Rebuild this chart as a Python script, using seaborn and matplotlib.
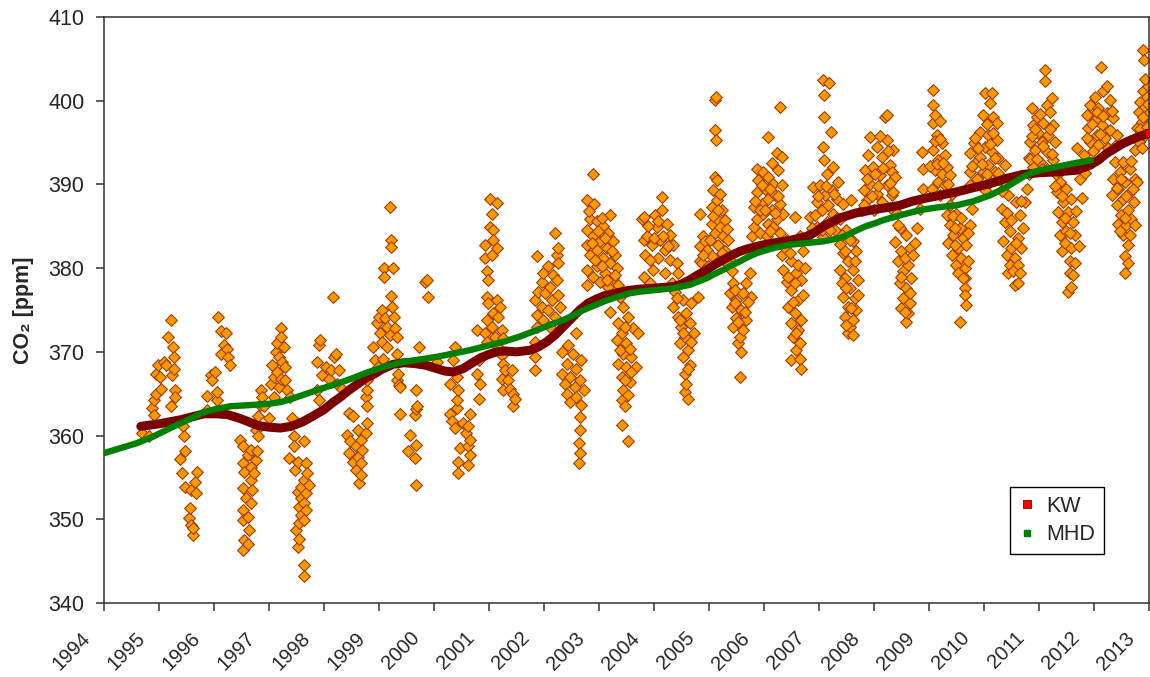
import matplotlib
matplotlib.use("Agg")
import matplotlib.pyplot as plt
import matplotlib.transforms as mtransforms
import pandas as pd
import seaborn as sns
from matplotlib.lines import Line2D

# Weekly CO2 flask samples (decimal year, ppm), grouped by season
obs_1995 = [(1994.70, 360.3), (1994.82, 359.9), (1994.88, 363.3), (1994.91, 362.5), (1994.91, 364.3),
            (1994.94, 365.0), (1994.95, 367.4), (1994.98, 368.4), (1995.02, 367.0), (1995.03, 365.6),
            (1995.09, 368.8), (1995.12, 368.4), (1995.17, 371.8), (1995.21, 373.8), (1995.21, 363.5),
            (1995.24, 367.2), (1995.25, 370.6), (1995.27, 369.4), (1995.28, 368.0), (1995.30, 365.4),
            (1995.30, 364.6), (1995.38, 357.2), (1995.41, 355.5), (1995.44, 361.1), (1995.45, 359.9),
            (1995.48, 358.1), (1995.48, 353.9), (1995.55, 350.1), (1995.56, 351.4), (1995.59, 353.5),
            (1995.59, 349.3), (1995.61, 348.1), (1995.62, 348.9), (1995.65, 354.4), (1995.68, 353.1),
            (1995.70, 355.6)]
obs_1996 = [(1995.87, 364.7), (1995.88, 363.1), (1995.94, 367.2), (1995.97, 366.6), (1996.02, 367.6),
            (1996.05, 364.3), (1996.06, 365.2), (1996.08, 374.2), (1996.12, 372.5), (1996.12, 369.8),
            (1996.18, 370.8), (1996.21, 372.2), (1996.24, 370.4), (1996.25, 369.4), (1996.29, 368.4),
            (1996.47, 359.5), (1996.52, 356.7), (1996.52, 351.1), (1996.53, 358.7), (1996.53, 353.7),
            (1996.53, 349.9), (1996.53, 346.3), (1996.55, 355.7), (1996.55, 347.5), (1996.58, 352.5),
            (1996.61, 350.3), (1996.61, 347.1), (1996.62, 357.7), (1996.64, 348.7), (1996.67, 358.3),
            (1996.67, 356.3), (1996.67, 354.7), (1996.67, 351.9), (1996.70, 353.5), (1996.73, 355.5),
            (1996.76, 360.7), (1996.76, 357.1), (1996.79, 358.1), (1996.80, 362.3), (1996.80, 359.9),
            (1996.84, 363.7), (1996.85, 365.4), (1996.88, 364.6)]
obs_1997 = [(1996.91, 363.5), (1997.00, 362.1), (1997.03, 366.2), (1997.06, 368.4), (1997.09, 367.0),
            (1997.10, 364.6), (1997.12, 370.0), (1997.15, 371.0), (1997.15, 367.6), (1997.18, 369.4),
            (1997.18, 365.8), (1997.21, 372.8), (1997.21, 371.8), (1997.21, 366.8), (1997.24, 368.8),
            (1997.27, 370.6), (1997.30, 368.2), (1997.30, 366.6), (1997.32, 365.4), (1997.39, 364.6),
            (1997.42, 362.1), (1997.36, 357.3), (1997.45, 359.9), (1997.45, 358.7), (1997.48, 355.9),
            (1997.50, 348.7), (1997.52, 356.9), (1997.52, 353.3), (1997.52, 346.7), (1997.55, 351.5),
            (1997.55, 349.5), (1997.55, 347.7), (1997.58, 353.9), (1997.58, 352.5), (1997.58, 350.5),
            (1997.64, 359.3), (1997.64, 354.7), (1997.64, 351.9), (1997.64, 349.9), (1997.64, 344.5),
            (1997.64, 343.2), (1997.67, 356.7), (1997.67, 353.1), (1997.67, 351.1), (1997.70, 355.5),
            (1997.73, 354.1)]
obs_1998 = [(1997.88, 368.8), (1997.88, 365.4), (1997.91, 370.8), (1997.91, 364.3), (1997.93, 371.4),
            (1997.97, 367.2), (1998.03, 368.2), (1998.09, 366.8), (1998.12, 367.8), (1998.17, 376.6),
            (1998.18, 369.4), (1998.21, 369.8), (1998.24, 366.2), (1998.27, 367.8), (1998.33, 365.6),
            (1998.42, 360.1), (1998.45, 362.7), (1998.45, 357.9), (1998.48, 359.3), (1998.52, 362.3),
            (1998.52, 356.9), (1998.58, 358.7), (1998.58, 355.9), (1998.61, 360.7), (1998.61, 357.5),
            (1998.64, 354.3), (1998.67, 359.5), (1998.67, 356.7), (1998.67, 355.3), (1998.70, 358.3),
            (1998.76, 360.3), (1998.76, 364.6), (1998.79, 361.5), (1998.79, 363.5), (1998.79, 365.4),
            (1998.79, 366.6)]
obs_1999 = [(1998.90, 370.6), (1998.93, 369.0), (1998.97, 373.4), (1998.99, 368.2), (1999.00, 374.2),
            (1999.02, 372.2), (1999.05, 375.0), (1999.05, 371.2), (1999.08, 369.2), (1999.09, 380.0),
            (1999.09, 378.9), (1999.11, 374.0), (1999.14, 373.0), (1999.14, 370.6), (1999.20, 387.3),
            (1999.20, 372.0), (1999.21, 383.4), (1999.21, 382.5), (1999.21, 376.7), (1999.23, 375.4),
            (1999.25, 380.0), (1999.27, 374.2), (1999.29, 372.8), (1999.32, 371.8), (1999.32, 369.8),
            (1999.32, 366.6), (1999.35, 367.4), (1999.37, 366.0), (1999.38, 365.8), (1999.38, 362.6),
            (1999.53, 358.1), (1999.56, 360.1), (1999.65, 357.3), (1999.66, 362.5), (1999.67, 363.2),
            (1999.67, 358.9), (1999.67, 354.1), (1999.68, 365.4), (1999.69, 363.5), (1999.72, 370.6),
            (1999.84, 378.4), (1999.87, 378.6), (1999.90, 376.6)]
obs_2000 = [(2000.05, 368.8), (2000.29, 366.2), (2000.29, 362.6), (2000.32, 361.7), (2000.35, 369.0),
            (2000.38, 370.6), (2000.38, 360.9), (2000.41, 363.3), (2000.42, 367.0), (2000.42, 364.3),
            (2000.44, 365.4), (2000.44, 356.9), (2000.44, 355.5), (2000.47, 358.5), (2000.53, 361.5),
            (2000.59, 360.3), (2000.62, 361.1), (2000.62, 358.7), (2000.62, 356.5), (2000.65, 362.6),
            (2000.65, 359.5), (2000.65, 357.7), (2000.78, 367.4), (2000.78, 372.6), (2000.81, 369.0),
            (2000.81, 364.4), (2000.84, 366.2)]
obs_2001 = [(2000.93, 382.8), (2000.93, 381.2), (2000.93, 372.2), (2000.96, 379.6), (2000.96, 376.6),
            (2000.96, 373.8), (2000.96, 371.2), (2000.99, 378.6), (2000.99, 375.8), (2001.01, 388.2),
            (2001.01, 384.9), (2001.05, 386.5), (2001.05, 381.6), (2001.05, 373.0), (2001.07, 384.6),
            (2001.08, 383.4), (2001.08, 374.6), (2001.11, 371.8), (2001.14, 387.8), (2001.14, 382.4),
            (2001.14, 376.2), (2001.17, 374.2), (2001.17, 370.6), (2001.20, 375.4), (2001.23, 372.6),
            (2001.23, 369.6), (2001.23, 366.8), (2001.26, 371.6), (2001.26, 368.6), (2001.26, 365.4),
            (2001.29, 367.8), (2001.35, 366.6), (2001.38, 365.6), (2001.41, 367.8), (2001.44, 365.0),
            (2001.44, 363.5), (2001.47, 364.4)]
obs_2002 = [(2001.84, 376.2), (2001.84, 371.2), (2001.84, 369.4), (2001.84, 367.8), (2001.87, 374.4),
            (2001.87, 373.0), (2001.88, 381.4), (2001.90, 377.2), (2001.96, 378.4), (2001.96, 375.4),
            (2001.99, 379.4), (2001.99, 373.8), (2002.02, 377.0), (2002.08, 380.2), (2002.08, 375.0),
            (2002.11, 377.8), (2002.11, 373.0), (2002.14, 376.2), (2002.17, 379.2), (2002.20, 384.2),
            (2002.20, 374.2), (2002.23, 381.6), (2002.23, 378.6), (2002.26, 382.4), (2002.26, 380.6),
            (2002.26, 376.8), (2002.29, 375.4), (2002.32, 370.0), (2002.32, 367.4), (2002.38, 366.2),
            (2002.41, 368.6), (2002.41, 365.0), (2002.44, 370.8), (2002.47, 367.0), (2002.47, 364.0),
            (2002.53, 369.8), (2002.56, 365.8), (2002.59, 372.2), (2002.59, 368.0), (2002.59, 364.6),
            (2002.63, 359.1), (2002.63, 356.7), (2002.66, 366.6), (2002.66, 362.2), (2002.66, 357.9),
            (2002.66, 360.7), (2002.68, 369.0), (2002.68, 363.6), (2002.72, 365.4)]
obs_2003 = [(2002.78, 388.1), (2002.78, 384.6), (2002.78, 382.8), (2002.78, 379.8), (2002.78, 378.0),
            (2002.84, 385.9), (2002.84, 381.6), (2002.90, 391.2), (2002.90, 383.8), (2002.90, 379.0),
            (2002.91, 387.7), (2002.96, 385.6), (2002.96, 382.2), (2002.96, 380.2), (2003.02, 383.2),
            (2003.02, 378.4), (2003.08, 385.0), (2003.08, 381.2), (2003.11, 379.4), (2003.14, 382.4),
            (2003.17, 384.2), (2003.17, 377.8), (2003.20, 386.3), (2003.20, 380.6), (2003.26, 383.2),
            (2003.26, 378.8), (2003.29, 381.6), (2003.32, 380.0), (2003.35, 378.0), (2003.20, 374.8),
            (2003.32, 371.4), (2003.35, 373.4), (2003.35, 368.6), (2003.41, 372.2), (2003.41, 367.0),
            (2003.41, 364.2), (2003.41, 361.3), (2003.44, 375.4), (2003.44, 369.8), (2003.44, 365.4),
            (2003.47, 363.5), (2003.50, 371.0), (2003.50, 368.2), (2003.53, 374.2), (2003.53, 359.3),
            (2003.56, 366.4), (2003.59, 369.4), (2003.62, 372.8), (2003.68, 368.2), (2003.71, 372.2),
            (2002.81, 386.8), (2002.87, 383.0), (2002.93, 381.0), (2002.99, 384.4), (2003.05, 380.2),
            (2003.05, 386.0), (2003.11, 383.6), (2003.14, 378.6), (2003.23, 382.0), (2003.29, 379.2),
            (2003.38, 376.6), (2003.38, 370.2), (2003.47, 373.0), (2003.56, 370.4), (2003.47, 366.6),
            (2003.53, 364.8), (2003.59, 367.6)]
obs_2004 = [(2003.79, 385.9), (2003.81, 386.1), (2003.81, 383.4), (2003.81, 379.0), (2003.84, 381.6),
            (2003.87, 383.8), (2003.93, 378.2), (2003.96, 382.8), (2003.99, 379.8), (2004.02, 386.3),
            (2004.05, 384.9), (2004.08, 381.2), (2004.11, 383.4), (2004.14, 388.5), (2004.14, 386.9),
            (2004.20, 382.2), (2004.20, 379.4), (2004.23, 385.3), (2004.29, 384.0), (2004.29, 381.0),
            (2004.32, 378.2), (2004.35, 382.8), (2004.41, 380.6), (2004.44, 379.4), (2004.35, 375.4),
            (2004.44, 374.2), (2004.47, 371.0), (2004.50, 373.0), (2004.53, 376.2), (2004.53, 369.4),
            (2004.56, 371.8), (2004.56, 367.4), (2004.56, 365.2), (2004.59, 366.2), (2004.62, 370.2),
            (2004.62, 364.4), (2004.65, 373.4), (2004.65, 368.4), (2004.68, 375.8), (2004.72, 372.2),
            (2004.80, 376.6), (2003.90, 385.0), (2003.93, 381.0), (2004.00, 383.6), (2004.08, 385.6),
            (2004.17, 383.8), (2004.26, 382.6), (2004.38, 377.2), (2004.41, 376.4), (2004.47, 373.8),
            (2004.59, 374.6), (2004.62, 368.0), (2004.68, 371.2), (2004.53, 372.2)]
obs_2005 = [(2004.84, 386.5), (2004.84, 382.6), (2004.84, 380.8), (2004.87, 380.6), (2004.90, 383.8),
            (2004.93, 383.2), (2004.96, 382.2), (2004.99, 380.2), (2005.05, 387.3), (2005.05, 385.3),
            (2005.05, 381.4), (2005.08, 389.3), (2005.11, 400.1), (2005.11, 396.5), (2005.11, 390.9),
            (2005.11, 384.2), (2005.13, 400.5), (2005.13, 395.3), (2005.14, 390.5), (2005.14, 388.1),
            (2005.14, 385.9), (2005.17, 382.8), (2005.20, 388.9), (2005.20, 384.9), (2005.23, 386.9),
            (2005.26, 383.8), (2005.29, 385.7), (2005.29, 382.0), (2005.32, 384.7), (2005.35, 383.4),
            (2005.38, 381.0), (2005.41, 379.6), (2005.38, 377.0), (2005.41, 375.4), (2005.44, 378.2),
            (2005.44, 373.0), (2005.50, 376.2), (2005.50, 374.0), (2005.53, 371.0), (2005.56, 371.8),
            (2005.56, 367.0), (2005.59, 375.0), (2005.59, 370.0), (2005.62, 372.6), (2005.68, 378.2),
            (2005.68, 373.8), (2005.74, 379.4), (2005.77, 376.6), (2004.90, 381.6), (2005.02, 383.4),
            (2005.08, 386.2), (2005.17, 387.0), (2005.23, 381.8), (2005.32, 380.6), (2005.47, 377.4),
            (2005.53, 373.6), (2005.62, 377.0), (2005.65, 374.8), (2005.71, 376.0), (2005.47, 375.8)]
obs_2006 = [(2005.78, 383.8), (2005.81, 387.3), (2005.81, 384.9), (2005.87, 391.9), (2005.87, 389.1),
            (2005.87, 385.9), (2005.90, 390.5), (2005.93, 384.2), (2005.96, 387.7), (2005.99, 391.5),
            (2005.99, 386.5), (2006.02, 389.5), (2006.05, 383.8), (2006.08, 395.7), (2006.08, 390.9),
            (2006.08, 388.3), (2006.08, 385.3), (2006.14, 392.5), (2006.14, 386.9), (2006.17, 390.1),
            (2006.17, 384.9), (2006.20, 388.7), (2006.23, 393.7), (2006.23, 385.9), (2006.26, 391.7),
            (2006.29, 399.2), (2006.29, 387.7), (2006.29, 384.2), (2006.32, 393.3), (2006.32, 389.9),
            (2006.35, 386.5), (2006.32, 381.6), (2006.35, 379.8), (2006.41, 383.4), (2006.41, 378.4),
            (2006.44, 375.4), (2006.50, 380.8), (2006.50, 377.4), (2006.50, 373.4), (2006.50, 369.0),
            (2006.53, 371.8), (2006.56, 386.1), (2006.56, 374.6), (2006.59, 379.4), (2006.59, 370.2),
            (2006.62, 376.2), (2006.62, 372.6), (2006.65, 383.8), (2006.65, 371.0), (2006.65, 369.2),
            (2006.68, 378.6), (2006.68, 373.8), (2006.68, 368.0), (2006.71, 382.0), (2005.84, 388.0),
            (2005.93, 387.0), (2005.96, 389.9), (2006.02, 386.9), (2006.11, 389.4), (2006.20, 386.6),
            (2006.26, 388.6), (2006.11, 384.4), (2006.38, 382.4), (2006.44, 378.9), (2006.47, 381.8),
            (2006.53, 376.0), (2006.56, 378.2), (2006.62, 380.4), (2006.71, 376.8), (2006.74, 380.0),
            (2006.59, 372.2)]
obs_2007 = [(2006.81, 383.9), (2006.84, 386.1), (2006.90, 389.7), (2006.96, 387.9), (2006.96, 384.9),
            (2007.02, 389.9), (2007.05, 386.9), (2007.07, 402.5), (2007.07, 394.5), (2007.08, 383.7),
            (2007.09, 392.9), (2007.10, 400.7), (2007.10, 398.1), (2007.11, 388.7), (2007.14, 391.3),
            (2007.14, 385.5), (2007.17, 387.5), (2007.19, 402.1), (2007.21, 396.3), (2007.23, 389.3),
            (2007.26, 392.1), (2007.26, 386.5), (2007.29, 384.5), (2007.32, 388.3), (2007.35, 390.3),
            (2007.38, 385.9), (2007.44, 387.7), (2007.59, 388.1), (2007.38, 382.9), (2007.38, 379.8),
            (2007.44, 381.8), (2007.44, 376.6), (2007.47, 378.8), (2007.47, 374.2), (2007.50, 384.5),
            (2007.53, 380.8), (2007.53, 375.4), (2007.53, 372.2), (2007.56, 377.6), (2007.56, 373.0),
            (2007.62, 383.2), (2007.62, 379.8), (2007.62, 373.8), (2007.62, 372.0), (2007.65, 376.4),
            (2007.68, 382.0), (2007.68, 375.0), (2007.71, 378.6), (2006.87, 384.8), (2006.93, 386.4),
            (2006.99, 388.6), (2007.05, 384.6), (2007.13, 389.8), (2007.20, 384.6), (2007.28, 388.9),
            (2007.32, 386.0), (2007.41, 384.0), (2007.41, 378.2), (2007.47, 382.0), (2007.50, 377.6),
            (2007.59, 375.2), (2007.65, 380.8), (2007.71, 376.8), (2007.56, 383.4), (2007.50, 373.2)]
obs_2008 = [(2007.78, 386.9), (2007.81, 389.3), (2007.84, 391.7), (2007.87, 388.1), (2007.90, 393.5),
            (2007.93, 395.7), (2007.93, 390.1), (2007.99, 392.1), (2008.00, 386.9), (2008.05, 394.5),
            (2008.05, 388.9), (2008.11, 391.1), (2008.14, 393.3), (2008.14, 387.9), (2008.20, 398.1),
            (2008.23, 398.3), (2008.23, 395.3), (2008.23, 389.9), (2008.29, 392.3), (2008.32, 388.7),
            (2008.32, 391.5), (2008.35, 394.1), (2008.35, 389.1), (2008.38, 390.9), (2008.32, 387.1),
            (2008.38, 383.1), (2008.44, 380.8), (2008.47, 384.8), (2008.47, 378.2), (2008.50, 382.0),
            (2008.50, 375.2), (2008.53, 379.6), (2008.53, 376.4), (2008.59, 383.9), (2008.59, 377.6),
            (2008.59, 373.6), (2008.62, 380.4), (2008.62, 374.6), (2008.65, 382.4), (2008.65, 375.8),
            (2008.68, 378.8), (2008.78, 384.8), (2008.84, 387.1), (2008.87, 393.9), (2008.90, 389.5),
            (2008.90, 391.9), (2007.81, 387.6), (2007.87, 390.6), (2007.96, 388.6), (2008.02, 391.2),
            (2008.08, 389.8), (2008.11, 395.8), (2008.17, 392.0), (2008.26, 394.0), (2008.29, 390.2),
            (2008.41, 386.6), (2008.44, 385.2), (2008.50, 379.0), (2008.56, 381.2), (2008.65, 377.0),
            (2008.71, 381.6), (2008.56, 374.8), (2008.75, 383.0)]
obs_2009 = [(2009.05, 389.5), (2009.08, 401.3), (2009.08, 399.5), (2009.08, 397.3), (2009.08, 394.1),
            (2009.11, 398.3), (2009.11, 391.7), (2009.14, 395.9), (2009.17, 392.9), (2009.17, 390.3),
            (2009.20, 397.6), (2009.20, 388.7), (2009.23, 394.9), (2009.23, 391.3), (2009.29, 393.5),
            (2009.29, 389.9), (2009.32, 392.1), (2009.38, 391.1), (2009.41, 388.9), (2009.32, 386.3),
            (2009.35, 383.0), (2009.38, 385.1), (2009.41, 381.6), (2009.44, 383.9), (2009.50, 386.5),
            (2009.50, 380.4), (2009.53, 382.4), (2009.56, 384.8), (2009.56, 373.6), (2009.59, 381.2),
            (2009.62, 383.6), (2009.65, 380.0), (2009.65, 378.8), (2009.65, 377.6), (2009.65, 376.8),
            (2009.68, 382.8), (2009.68, 375.6), (2009.75, 385.1), (2009.78, 387.1), (2009.02, 392.2),
            (2009.11, 395.2), (2009.14, 392.4), (2009.20, 395.4), (2009.26, 392.6), (2009.35, 390.0),
            (2009.38, 387.6), (2009.44, 386.2), (2009.47, 382.8), (2009.53, 379.4), (2009.59, 386.0),
            (2009.62, 378.8), (2009.71, 380.8), (2009.71, 384.2), (2009.47, 384.8)]
obs_2010 = [(2009.75, 393.7), (2009.75, 391.5), (2009.75, 389.9), (2009.81, 394.9), (2009.84, 392.5),
            (2009.87, 390.7), (2009.93, 396.3), (2009.93, 393.3), (2009.99, 398.3), (2009.99, 391.5),
            (2010.02, 400.9), (2010.02, 394.5), (2010.02, 389.3), (2010.08, 395.9), (2010.08, 392.3),
            (2010.11, 399.7), (2010.11, 390.3), (2010.14, 400.9), (2010.14, 393.9), (2010.17, 398.1),
            (2010.20, 391.5), (2010.23, 397.3), (2010.23, 395.3), (2010.26, 393.1), (2010.29, 390.5),
            (2010.38, 392.3), (2010.32, 387.1), (2010.35, 383.2), (2010.38, 385.5), (2010.41, 381.6),
            (2010.44, 388.7), (2010.44, 379.4), (2010.47, 384.4), (2010.47, 380.4), (2010.50, 382.4),
            (2010.56, 381.2), (2010.56, 378.0), (2010.59, 387.9), (2010.62, 383.6), (2010.62, 380.4),
            (2010.62, 378.2), (2010.65, 386.3), (2010.68, 382.4), (2010.75, 387.9), (2010.78, 389.5),
            (2009.78, 392.2), (2009.84, 395.6), (2009.90, 394.4), (2009.96, 392.4), (2010.05, 397.2),
            (2010.05, 391.2), (2010.11, 394.8), (2010.17, 396.2), (2010.20, 393.2), (2010.26, 391.4),
            (2010.32, 389.2), (2010.41, 386.6), (2010.50, 385.8), (2010.53, 379.6), (2010.59, 383.0),
            (2010.65, 379.4), (2010.71, 384.8), (2010.68, 388.0)]
obs_2011 = [(2010.81, 393.1), (2010.81, 391.3), (2010.84, 395.1), (2010.87, 399.1), (2010.90, 397.1),
            (2010.90, 392.1), (2010.93, 394.1), (2010.96, 398.1), (2010.99, 396.1), (2011.02, 392.7),
            (2011.05, 395.1), (2011.08, 397.3), (2011.11, 403.7), (2011.11, 402.3), (2011.14, 399.5),
            (2011.14, 393.9), (2011.14, 391.9), (2011.17, 395.9), (2011.20, 398.7), (2011.23, 400.3),
            (2011.26, 397.1), (2011.26, 392.9), (2011.29, 395.1), (2011.32, 391.1), (2011.32, 389.1),
            (2011.35, 386.7), (2011.38, 390.3), (2011.38, 384.0), (2011.41, 385.5), (2011.41, 382.0),
            (2011.44, 387.9), (2011.47, 383.0), (2011.50, 389.5), (2011.50, 384.4), (2011.53, 386.7),
            (2011.53, 377.2), (2011.56, 380.8), (2011.56, 379.4), (2011.59, 388.3), (2011.59, 382.4),
            (2011.62, 385.5), (2011.62, 379.2), (2011.65, 384.0), (2011.69, 394.3), (2011.75, 390.7),
            (2011.81, 393.5), (2010.84, 393.0), (2010.87, 395.8), (2010.93, 396.6), (2010.96, 393.0),
            (2011.02, 398.4), (2011.05, 391.8), (2011.08, 394.6), (2011.20, 396.6), (2011.23, 393.6),
            (2011.29, 389.8), (2011.35, 391.6), (2011.41, 388.6), (2011.47, 386.0), (2011.56, 384.2),
            (2011.59, 377.8), (2011.65, 380.6), (2011.68, 386.8), (2011.72, 382.6), (2011.78, 388.4),
            (2011.84, 391.4)]
obs_2012 = [(2011.87, 398.3), (2011.90, 396.7), (2011.93, 399.5), (2011.93, 395.1), (2012.01, 400.5),
            (2012.02, 397.7), (2012.05, 395.9), (2012.08, 399.1), (2012.08, 394.7), (2012.12, 404.0),
            (2012.14, 397.1), (2012.17, 401.1), (2012.20, 395.5), (2012.23, 401.7), (2012.23, 398.5),
            (2012.29, 400.1), (2012.29, 396.5), (2012.35, 397.9), (2012.41, 395.9), (2012.32, 388.7),
            (2012.35, 390.7), (2012.38, 392.7), (2012.41, 387.5), (2012.44, 389.5), (2012.44, 385.3),
            (2012.47, 391.5), (2012.50, 386.3), (2012.53, 392.7), (2012.53, 388.3), (2012.53, 383.9),
            (2012.56, 390.3), (2012.56, 381.4), (2012.56, 379.4), (2012.59, 385.1), (2012.62, 386.9),
            (2012.62, 382.8), (2012.65, 391.9), (2012.65, 389.1), (2012.68, 385.9), (2012.72, 387.9),
            (2012.75, 390.7), (2012.78, 390.3), (2011.87, 395.6), (2011.96, 397.2), (2011.99, 394.0),
            (2012.05, 398.6), (2012.11, 396.0), (2012.17, 398.2), (2012.26, 394.4), (2012.32, 398.8),
            (2012.38, 394.6), (2012.41, 389.6), (2012.47, 384.4), (2012.50, 390.6), (2012.59, 388.6),
            (2012.62, 380.6), (2012.65, 384.0), (2012.71, 389.4), (2012.74, 385.2), (2012.68, 392.8),
            (2012.56, 386.0)]
obs_2013 = [(2012.75, 394.1), (2012.78, 396.7), (2012.81, 398.7), (2012.81, 395.1), (2012.84, 399.9),
            (2012.87, 397.5), (2012.90, 406.1), (2012.90, 401.1), (2012.91, 404.9), (2012.93, 399.3),
            (2012.93, 395.9), (2012.96, 400.5), (2012.96, 398.3), (2012.84, 396.6), (2012.87, 394.4),
            (2012.90, 398.0), (2012.96, 396.8), (2012.99, 399.6), (2012.99, 401.8), (2012.93, 402.6)]

# Smoothed trend curves
kw_years = [1994.67, 1995.0, 1995.4, 1995.82, 1996.05, 1996.25, 1996.45, 1996.61, 1996.8, 1997.0,
            1997.21, 1997.4, 1997.6, 1997.82, 1998.0, 1998.15, 1998.3, 1998.45, 1998.6, 1998.75,
            1998.9, 1999.05, 1999.25, 1999.45, 1999.65, 1999.85, 2000.05, 2000.2, 2000.35, 2000.53,
            2000.7, 2000.85, 2001.0, 2001.14, 2001.3, 2001.5, 2001.75, 2001.9, 2002.05, 2002.2,
            2002.35, 2002.5, 2002.65, 2002.8, 2002.95, 2003.1, 2003.3, 2003.5, 2003.75, 2004.0,
            2004.35, 2004.5, 2004.65, 2004.8, 2004.96, 2005.1, 2005.26, 2005.4, 2005.56, 2005.7,
            2005.87, 2006.0, 2006.17, 2006.47, 2006.78, 2006.93, 2007.08, 2007.23, 2007.38, 2007.53,
            2007.68, 2007.85, 2007.99, 2008.2, 2008.47, 2008.7, 2008.9, 2009.2, 2009.5, 2009.8,
            2010.11, 2010.4, 2010.71, 2011.02, 2011.32, 2011.69, 2011.93, 2012.08, 2012.23, 2012.38,
            2012.53, 2012.7, 2012.85, 2013.0]
kw_ppm = [361.1, 361.4, 361.9, 362.6, 362.6, 362.5, 362.1, 361.7, 361.2, 361.0,
          360.9, 361.1, 361.6, 362.4, 363.1, 363.9, 364.6, 365.4, 366.1, 366.8,
          367.3, 367.9, 368.5, 368.7, 368.6, 368.4, 368.0, 367.7, 367.6, 368.0,
          368.7, 369.3, 369.7, 370.0, 370.1, 370.0, 370.2, 370.6, 371.2, 372.0,
          373.0, 374.0, 375.0, 375.8, 376.3, 376.7, 377.0, 377.3, 377.5, 377.6,
          377.8, 378.1, 378.6, 379.2, 379.8, 380.4, 381.0, 381.5, 382.0, 382.3,
          382.6, 382.8, 383.0, 383.3, 383.8, 384.3, 385.0, 385.5, 386.0, 386.3,
          386.6, 386.8, 387.0, 387.2, 387.5, 388.0, 388.3, 388.7, 389.1, 389.6,
          390.1, 390.7, 391.2, 391.4, 391.5, 391.7, 392.3, 392.9, 393.7, 394.3,
          394.9, 395.4, 395.8, 396.1]

mhd_years = [1994.0, 1994.3, 1994.6, 1994.9, 1995.21, 1995.5, 1995.82, 1996.05, 1996.3, 1996.55,
             1996.79, 1997.0, 1997.21, 1997.42, 1997.64, 1997.95, 1998.24, 1998.5, 1998.73, 1998.9,
             1999.09, 1999.44, 1999.75, 2000.05, 2000.35, 2000.65, 2000.95, 2001.26, 2001.55, 2001.87,
             2002.1, 2002.35, 2002.55, 2002.72, 2002.9, 2003.08, 2003.3, 2003.56, 2003.75, 2004.05,
             2004.35, 2004.65, 2004.8, 2004.96, 2005.1, 2005.26, 2005.4, 2005.56, 2005.7, 2005.87,
             2006.02, 2006.17, 2006.47, 2006.78, 2007.08, 2007.38, 2007.53, 2007.68, 2007.85, 2007.99,
             2008.2, 2008.47, 2008.7, 2008.9, 2009.2, 2009.5, 2009.81, 2010.11, 2010.41, 2010.56,
             2010.71, 2010.87, 2011.02, 2011.32, 2011.62, 2011.95]
mhd_ppm = [357.9, 358.5, 359.1, 359.9, 360.9, 361.8, 362.8, 363.2, 363.5, 363.6,
           363.7, 363.8, 364.0, 364.4, 364.9, 365.6, 366.2, 366.8, 367.4, 367.8,
           368.2, 368.8, 369.1, 369.4, 369.8, 370.2, 370.7, 371.2, 371.8, 372.6,
           373.2, 373.8, 374.4, 375.0, 375.5, 376.0, 376.5, 377.0, 377.2, 377.4,
           377.6, 378.0, 378.4, 378.8, 379.3, 379.8, 380.3, 380.8, 381.3, 381.8,
           382.1, 382.4, 382.8, 383.0, 383.2, 383.6, 384.0, 384.5, 385.0, 385.3,
           385.8, 386.3, 386.7, 387.0, 387.3, 387.5, 388.0, 388.7, 389.7, 390.3,
           390.9, 391.4, 391.7, 392.1, 392.5, 392.9]

year_ticks = list(range(1994, 2014))
ppm_ticks = list(range(340, 411, 10))
series_labels = ["KW", "MHD"]

KW_COLOR = "#7A0000"
MHD_COLOR = "#008000"

sns.set_style("ticks")
plt.rcParams["font.family"] = ["Liberation Sans", "DejaVu Sans"]

samples = pd.DataFrame(
    obs_1995 + obs_1996 + obs_1997 + obs_1998 + obs_1999 + obs_2000 + obs_2001 + obs_2002
    + obs_2003 + obs_2004 + obs_2005 + obs_2006 + obs_2007 + obs_2008 + obs_2009 + obs_2010
    + obs_2011 + obs_2012 + obs_2013,
    columns=["year", "ppm"],
)
kw = pd.DataFrame({"year": kw_years, "ppm": kw_ppm})
mhd = pd.DataFrame({"year": mhd_years, "ppm": mhd_ppm})

fig = plt.figure(figsize=(11.5, 6.77), dpi=100)
ax = fig.add_axes([0.0904, 0.1093, 0.9087, 0.8656])

sns.scatterplot(data=samples, x="year", y="ppm", marker="D", s=36,
                color="#FF9900", edgecolor="#A03C00", linewidth=0.8,
                legend=False, ax=ax, zorder=2)
sns.lineplot(data=kw, x="year", y="ppm", color=KW_COLOR, linewidth=6.5,
             sort=False, estimator=None, legend=False, ax=ax, zorder=3)
sns.lineplot(data=mhd, x="year", y="ppm", color=MHD_COLOR, linewidth=4.6,
             sort=False, estimator=None, legend=False, ax=ax, zorder=4)
# end point of the KW curve
sns.scatterplot(data=kw.tail(1), x="year", y="ppm", marker="s", s=40,
                color="#FF0000", edgecolor=KW_COLOR, linewidth=0.8,
                legend=False, ax=ax, zorder=5)

ax.set_xlim(year_ticks[0], year_ticks[-1])
ax.set_ylim(ppm_ticks[0], ppm_ticks[-1])
ax.set_xticks(year_ticks)
ax.set_yticks(ppm_ticks)
ax.set_xticklabels([str(y) for y in year_ticks], rotation=45, ha="right", va="center",
                   rotation_mode="anchor", fontsize=14.5)
ax.set_yticklabels([str(v) for v in ppm_ticks], fontsize=15.5)
ax.tick_params(axis="both", direction="out", length=6, width=1.1, color="#333333")
ax.tick_params(axis="y", pad=8)
ax.tick_params(axis="x", pad=2)
# slanted year labels sit below and slightly left of their ticks
shift = mtransforms.ScaledTranslation(-0.17, -0.21, fig.dpi_scale_trans)
for lbl in ax.get_xticklabels():
    lbl.set_transform(lbl.get_transform() + shift)
ax.set_xlabel("")
ax.set_ylabel("CO₂ [ppm]", fontsize=15.5, fontweight="bold", labelpad=10)
for side in ["left", "bottom", "top", "right"]:
    ax.spines[side].set_visible(True)
    ax.spines[side].set_color("#333333")
    ax.spines[side].set_linewidth(1.1)

handles = [
    Line2D([], [], linestyle="none", marker="s", markersize=6,
           markerfacecolor="#FF0000", markeredgecolor=KW_COLOR, markeredgewidth=0.6),
    Line2D([], [], linestyle="none", marker="s", markersize=4.5,
           markerfacecolor=MHD_COLOR, markeredgecolor=MHD_COLOR),
]
leg = ax.legend(handles, series_labels, loc="lower left", bbox_to_anchor=(0.867, 0.084),
                borderaxespad=0, frameon=True, fancybox=False, framealpha=1,
                edgecolor="black", fontsize=15.5, handlelength=0.8, handletextpad=0.5,
                labelspacing=0.35, borderpad=0.4)
leg.get_frame().set_linewidth(1.0)

fig.savefig("out.png", dpi=100, facecolor="white")
